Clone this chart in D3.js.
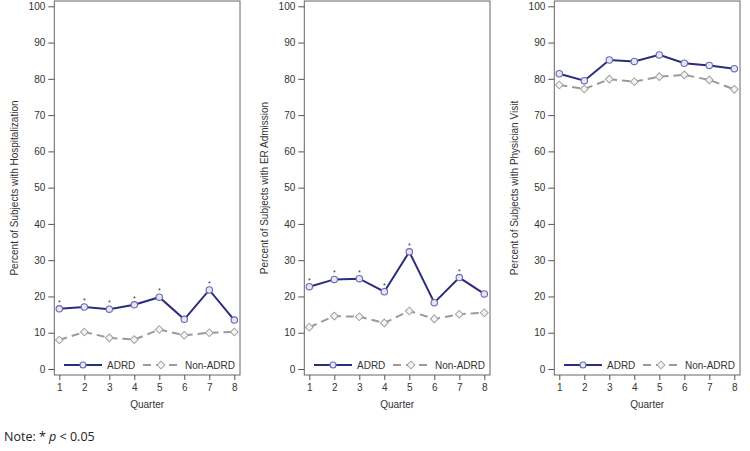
<!DOCTYPE html>
<html>
<head>
<meta charset="utf-8">
<script src="https://cdn.jsdelivr.net/npm/d3@7"></script>
<style>
body { margin:0; background:#fff; }
svg { display:block; }
</style>
</head>
<body>
<svg id="chart" width="750" height="451"></svg>
<script>
const quarters = [1,2,3,4,5,6,7,8];
const yTicks = [0,10,20,30,40,50,60,70,80,90,100];
const panelTitles = [
  "Percent of Subjects with Hospitalization",
  "Percent of Subjects with ER Admission",
  "Percent of Subjects with Physician Visit"
];
const hospADRD    = [16.6,17.1,16.5,17.7,19.8,13.7,21.8,13.5];
const hospNonADRD = [8.0,10.2,8.6,8.1,10.9,9.3,10.0,10.2];
const hospSig     = [1,1,1,1,1,0,1,0];
const erADRD      = [22.7,24.7,24.9,21.3,32.3,18.3,25.2,20.7];
const erNonADRD   = [11.5,14.6,14.4,12.7,16.0,13.8,15.1,15.5];
const erSig       = [1,1,1,1,1,0,1,0];
const physADRD    = [81.4,79.5,85.2,84.8,86.6,84.3,83.7,82.8];
const physNonADRD = [78.3,77.2,79.9,79.2,80.6,81.1,79.7,77.1];
const physSig     = [0,0,0,0,0,0,0,0];
const seriesNames = ["ADRD","Non-ADRD"];
const noteText = "p";

const panels = [
  {title: panelTitles[0], a: hospADRD, n: hospNonADRD, sig: hospSig},
  {title: panelTitles[1], a: erADRD, n: erNonADRD, sig: erSig},
  {title: panelTitles[2], a: physADRD, n: physNonADRD, sig: physSig}
];

const svg = d3.select("#chart");
const font = "'Liberation Sans', Arial, sans-serif";
const adrdColor = "#2c2c7c";
const nonColor = "#9a9a9a";

const boxL = 54.3, boxR = 240, boxT = 1, boxB = 375;
const x = d3.scaleLinear().domain([1,8]).range([59.3,234.3]);
const y = d3.scaleLinear().domain([0,100]).range([369,6.3]);
const diamond = d3.symbol().type(d3.symbolSquare).size(30);

panels.forEach((p, i) => {
  const g = svg.append("g").attr("transform", `translate(${i*250},0)`);

  g.append("rect").attr("x", boxL).attr("y", boxT)
    .attr("width", boxR-boxL).attr("height", boxB-boxT)
    .attr("fill","none").attr("stroke","#666").attr("stroke-width",1);

  const ya = g.append("g").attr("transform", `translate(${boxL},0)`)
    .call(d3.axisLeft(y).tickValues(yTicks).tickSize(6).tickSizeOuter(0).tickPadding(3));
  ya.select(".domain").remove();
  ya.selectAll("line").attr("stroke","#555");
  ya.selectAll("text").attr("font-family",font).attr("font-size",10).attr("fill","#333");

  const xa = g.append("g").attr("transform", `translate(0,${boxB})`)
    .call(d3.axisBottom(x).tickValues(quarters).tickFormat(d3.format("d")).tickSize(5).tickSizeOuter(0).tickPadding(4));
  xa.select(".domain").remove();
  xa.selectAll("line").attr("stroke","#555");
  xa.selectAll("text").attr("font-family",font).attr("font-size",10).attr("fill","#333");

  g.append("text").attr("x", (boxL+boxR)/2).attr("y", 408)
    .attr("text-anchor","middle").attr("font-family",font).attr("font-size",10).attr("fill","#333")
    .text("Quarter");

  g.append("text").attr("transform", `translate(18,${(boxT+boxB)/2}) rotate(-90)`)
    .attr("text-anchor","middle").attr("font-family",font).attr("font-size",10).attr("fill","#333")
    .text(p.title);

  const line = d3.line().x((d,j)=>x(quarters[j])).y(d=>y(d));

  // Non-ADRD
  g.append("path").datum(p.n).attr("d", line).attr("fill","none")
    .attr("stroke", nonColor).attr("stroke-width",2).attr("stroke-dasharray","8,5");
  g.selectAll(".dia").data(p.n).enter().append("path")
    .attr("d", diamond)
    .attr("transform",(d,j)=>`translate(${x(quarters[j])},${y(d)}) rotate(45)`)
    .attr("fill","#f4f4f4").attr("stroke","#a0a0a0").attr("stroke-width",1);

  // ADRD
  g.append("path").datum(p.a).attr("d", line).attr("fill","none")
    .attr("stroke", adrdColor).attr("stroke-width",2);
  g.selectAll(".circ").data(p.a).enter().append("circle")
    .attr("cx",(d,j)=>x(quarters[j])).attr("cy",d=>y(d)).attr("r",3.2)
    .attr("fill","#e6e6f4").attr("stroke","#6a6ab0").attr("stroke-width",1.1);

  // significance asterisks
  g.selectAll(".sig").data(p.a.map((d,j)=>({v:d,q:quarters[j],s:p.sig[j]})).filter(d=>d.s))
    .enter().append("text")
    .attr("x", d=>x(d.q)).attr("y", d=>y(d.v)-4)
    .attr("text-anchor","middle").attr("font-family",font).attr("font-size",7).attr("fill","#333")
    .text("*");

  // legend
  const ly = 365;
  g.append("line").attr("x1",64).attr("x2",102).attr("y1",ly).attr("y2",ly)
    .attr("stroke",adrdColor).attr("stroke-width",2);
  g.append("circle").attr("cx",83).attr("cy",ly).attr("r",3)
    .attr("fill","#e6e6f4").attr("stroke","#6a6ab0").attr("stroke-width",1.1);
  g.append("text").attr("x",107).attr("y",ly+3.5).attr("font-family",font).attr("font-size",10).attr("fill","#333")
    .text(seriesNames[0]);
  g.append("line").attr("x1",143).attr("x2",180).attr("y1",ly).attr("y2",ly)
    .attr("stroke",nonColor).attr("stroke-width",2).attr("stroke-dasharray","8,5");
  g.append("path").attr("d", diamond)
    .attr("transform",`translate(161,${ly}) rotate(45)`)
    .attr("fill","#f4f4f4").attr("stroke","#a0a0a0").attr("stroke-width",1);
  g.append("text").attr("x",185).attr("y",ly+3.5).attr("font-family",font).attr("font-size",10).attr("fill","#333")
    .text(seriesNames[1]);
});

const note = svg.append("text").attr("x",4).attr("y",441)
  .attr("font-family","'Open Sans', 'Noto Sans', sans-serif").attr("font-size",12.5).attr("fill","#222");
note.append("tspan").text("Note: * ");
note.append("tspan").attr("font-style","italic").text(noteText);
note.append("tspan").text(" < 0.05");
</script>
</body>
</html>
